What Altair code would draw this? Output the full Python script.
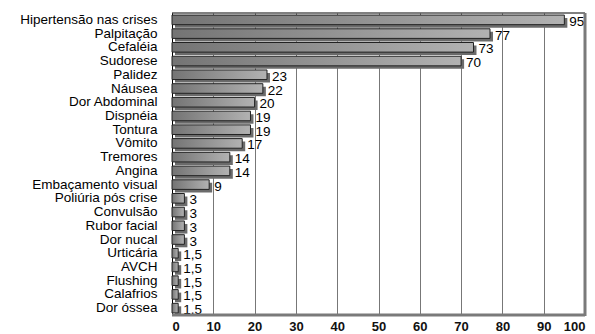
import altair as alt
import pandas as pd

categories = ["Hipertensão nas crises", "Palpitação", "Cefaléia", "Sudorese", "Palidez",
              "Náusea", "Dor Abdominal", "Dispnéia", "Tontura", "Vômito", "Tremores",
              "Angina", "Embaçamento visual", "Poliúria pós crise", "Convulsão",
              "Rubor facial", "Dor nucal", "Urticária", "AVCH", "Flushing", "Calafrios",
              "Dor óssea"]
values = [95, 77, 73, 70, 23, 22, 20, 19, 19, 17, 14, 14, 9, 3, 3, 3, 3,
          1.5, 1.5, 1.5, 1.5, 1.5]
labels = [str(v).replace(".", ",") if isinstance(v, float) else str(v) for v in values]
x_ticks = [0, 10, 20, 30, 40, 50, 60, 70, 80, 90, 100]

df = pd.DataFrame({"cat": categories, "val": values, "lab": labels})

W, H = 413, 302
FONT = "Liberation Sans"

xs = alt.Scale(domain=[0, 100], nice=False)
ys = alt.Scale(domain=categories, paddingInner=0.3, paddingOuter=0.15)

base = alt.Chart(df)

shadow = base.mark_bar(color="#6b6b6b", xOffset=3, yOffset=3).encode(
    x=alt.X("val:Q", scale=xs,
            axis=alt.Axis(values=x_ticks, grid=True, gridColor="#777777", gridWidth=1,
                          ticks=False, domain=False, labelFont=FONT, labelFontSize=13,
                          labelFontWeight="bold", labelColor="#111111", labelPadding=5,
                          title=None)),
    y=alt.Y("cat:N", scale=ys, sort=categories,
            axis=alt.Axis(ticks=False, domain=True, domainColor="#000000",
                          labelFont=FONT, labelFontSize=13.5, labelColor="#000000",
                          labelPadding=15, labelLimit=200, title=None)),
)

grad = alt.Gradient(gradient="linear", x1=0, x2=1, y1=0, y2=0,
                    stops=[alt.GradientStop(offset=0, color="#747474"),
                           alt.GradientStop(offset=1, color="#b2b2b2")])

bars = base.mark_bar(color=grad, stroke="#222222", strokeWidth=1).encode(
    x=alt.X("val:Q", scale=xs),
    y=alt.Y("cat:N", scale=ys, sort=categories),
)

text = base.mark_text(align="left", baseline="middle", dx=5, dy=2, font=FONT,
                      fontSize=13.5, color="#000000").encode(
    x=alt.X("val:Q", scale=xs),
    y=alt.Y("cat:N", scale=ys, sort=categories),
    text="lab:N",
)

top_rule = alt.Chart(pd.DataFrame({"x": [0], "x2": [100]})).mark_rule(
    color="#000000", strokeWidth=1).encode(
    x=alt.X("x:Q", scale=xs), x2="x2:Q", y=alt.value(0))

right_rule = alt.Chart(pd.DataFrame({"x": [100]})).mark_rule(
    color="#7a7a7a", strokeWidth=3).encode(
    x=alt.X("x:Q", scale=xs), y=alt.value(0), y2=alt.value(H + 1))

bottom_rule = alt.Chart(pd.DataFrame({"x": [0], "x2": [100]})).mark_rule(
    color="#7a7a7a", strokeWidth=3).encode(
    x=alt.X("x:Q", scale=xs), x2="x2:Q", y=alt.value(H))

chart = alt.layer(shadow, bars, text, top_rule, right_rule, bottom_rule).properties(
    width=W, height=H,
    autosize=alt.AutoSizeParams(type="none"),
    padding={"left": 172, "top": 13, "right": 10, "bottom": 19},
    background="white",
).configure_view(stroke=None)

chart.save("out.html", embed_options={"renderer": "svg", "actions": False})
